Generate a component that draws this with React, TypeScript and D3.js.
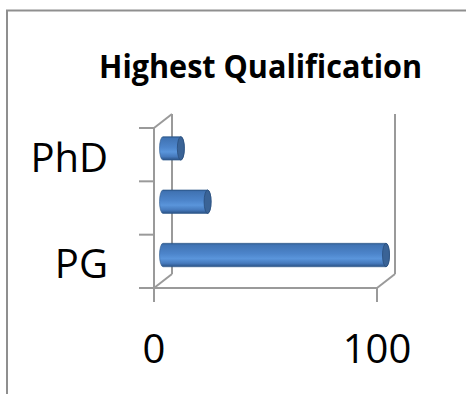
import * as d3 from "d3";
import { useEffect, useRef } from "react";

const categories = ["PG", "UG", "PhD"];
const values = [100, 20, 8];
const valueTicks = [0, 100];
const shownLabels = ["PG", "PhD"];

const W = 466;
const H = 394;

export default function App() {
    const svgRef = useRef<SVGSVGElement | null>(null);

    useEffect(() => {
        if (!svgRef.current) return;
        const svg = d3.select(svgRef.current);
        svg.selectAll("*").remove();

        const font = "'Open Sans', 'DejaVu Sans', sans-serif";
        const lineColor = "#9a9a9a";

        // 3D depth offset of the plot box
        const dx = 18;
        const dy = -14;

        const x = d3.scaleLinear().domain([0, 100]).range([154, 377]);
        const y = d3.scaleBand().domain(categories).range([288, 128]).padding(0);

        // gradient for the cylinders
        const defs = svg.append("defs");
        const grad = defs.append("linearGradient")
            .attr("id", "cyl")
            .attr("x1", 0).attr("y1", 0).attr("x2", 0).attr("y2", 1);
        [
            [0, "#2c578b"],
            [0.07, "#4073b3"],
            [0.45, "#4d85cb"],
            [0.65, "#5a95db"],
            [0.85, "#467abd"],
            [1, "#2a5184"],
        ].forEach(([o, c]) => grad.append("stop").attr("offset", o as number).attr("stop-color", c as string));

        // outer border
        svg.append("rect")
            .attr("x", 7).attr("y", 10.5)
            .attr("width", 520).attr("height", 420)
            .attr("fill", "white")
            .attr("stroke", "#8f8f8f")
            .attr("stroke-width", 2);

        // title
        svg.append("text")
            .attr("x", 260.5)
            .attr("y", 78)
            .attr("text-anchor", "middle")
            .attr("textLength", 323)
            .attr("lengthAdjust", "spacingAndGlyphs")
            .style("font-family", font)
            .style("font-size", "32px")
            .style("font-weight", "bold")
            .style("fill", "#000")
            .text("Highest Qualification");

        const x0 = x(0);
        const x1 = x(100);
        const yTop = y.range()[1];
        const yBot = y.range()[0];

        const walls = svg.append("g")
            .attr("fill", "none")
            .attr("stroke", lineColor)
            .attr("stroke-width", 2);

        const seg = (a: [number, number], b: [number, number]) =>
            walls.append("line")
                .attr("x1", a[0]).attr("y1", a[1])
                .attr("x2", b[0]).attr("y2", b[1]);

        // side wall edges
        seg([x0, yTop], [x0 + dx, yTop + dy]);
        seg([x0 + dx, yTop + dy], [x0 + dx, yBot + dy]);
        seg([x0, yTop], [x0, yBot]);
        seg([x0, yBot], [x0 + dx, yBot + dy]);
        // floor
        seg([x0, yBot], [x1, yBot]);
        seg([x1, yBot], [x1 + dx, yBot + dy]);
        // back wall right edge
        seg([x1 + dx, yBot + dy], [x1 + dx, yTop + dy]);

        // category ticks
        const bounds = categories.map(c => y(c) || 0).concat([yBot]);
        bounds.forEach(b => seg([x0 - 15, b], [x0, b]));
        // value ticks
        valueTicks.forEach(t => seg([x(t), yBot], [x(t), yBot + 14]));

        // cylinders
        const bh = y.bandwidth() * 0.44;
        const rx = 3.5;
        const bars = svg.append("g");
        categories.forEach((c, i) => {
            const cy = (y(c) || 0) + y.bandwidth() / 2 + dy / 2 + 0.7;
            const top = cy - bh / 2;
            const bot = cy + bh / 2;
            const sx = x(0) + dx / 2;
            const ex = x(values[i]) + dx / 2;
            const ry = bh / 2;
            bars.append("path")
                .attr("d", `M${sx},${top} L${ex},${top} A${rx},${ry} 0 0 1 ${ex},${bot} L${sx},${bot} A${rx},${ry} 0 0 1 ${sx},${top} Z`)
                .attr("fill", "url(#cyl)")
                .attr("stroke", "#2f5a8d")
                .attr("stroke-width", 0.6);
            bars.append("ellipse")
                .attr("cx", ex).attr("cy", cy)
                .attr("rx", rx).attr("ry", ry)
                .attr("fill", "#3a6396")
                .attr("stroke", "#2a4e7c")
                .attr("stroke-width", 0.8);
        });

        // category labels (Excel skips every other one)
        svg.append("g")
            .selectAll("text")
            .data(shownLabels)
            .enter()
            .append("text")
            .attr("x", 108)
            .attr("y", d => (y(d) || 0) + y.bandwidth() / 2 + 17)
            .attr("text-anchor", "end")
            .style("font-family", font)
            .style("font-size", "40px")
            .style("fill", "#000")
            .text(d => d);

        // value labels
        svg.append("g")
            .selectAll("text")
            .data(valueTicks)
            .enter()
            .append("text")
            .attr("x", d => x(d))
            .attr("y", 363)
            .attr("text-anchor", "middle")
            .style("font-family", font)
            .style("font-size", "40px")
            .style("fill", "#000")
            .text(d => String(d));
    }, []);

    return (
        <svg
            ref={svgRef}
            width={W}
            height={H}
            style={{ position: "absolute", left: 0, top: 0, background: "#fff" }}
        />
    );
}
